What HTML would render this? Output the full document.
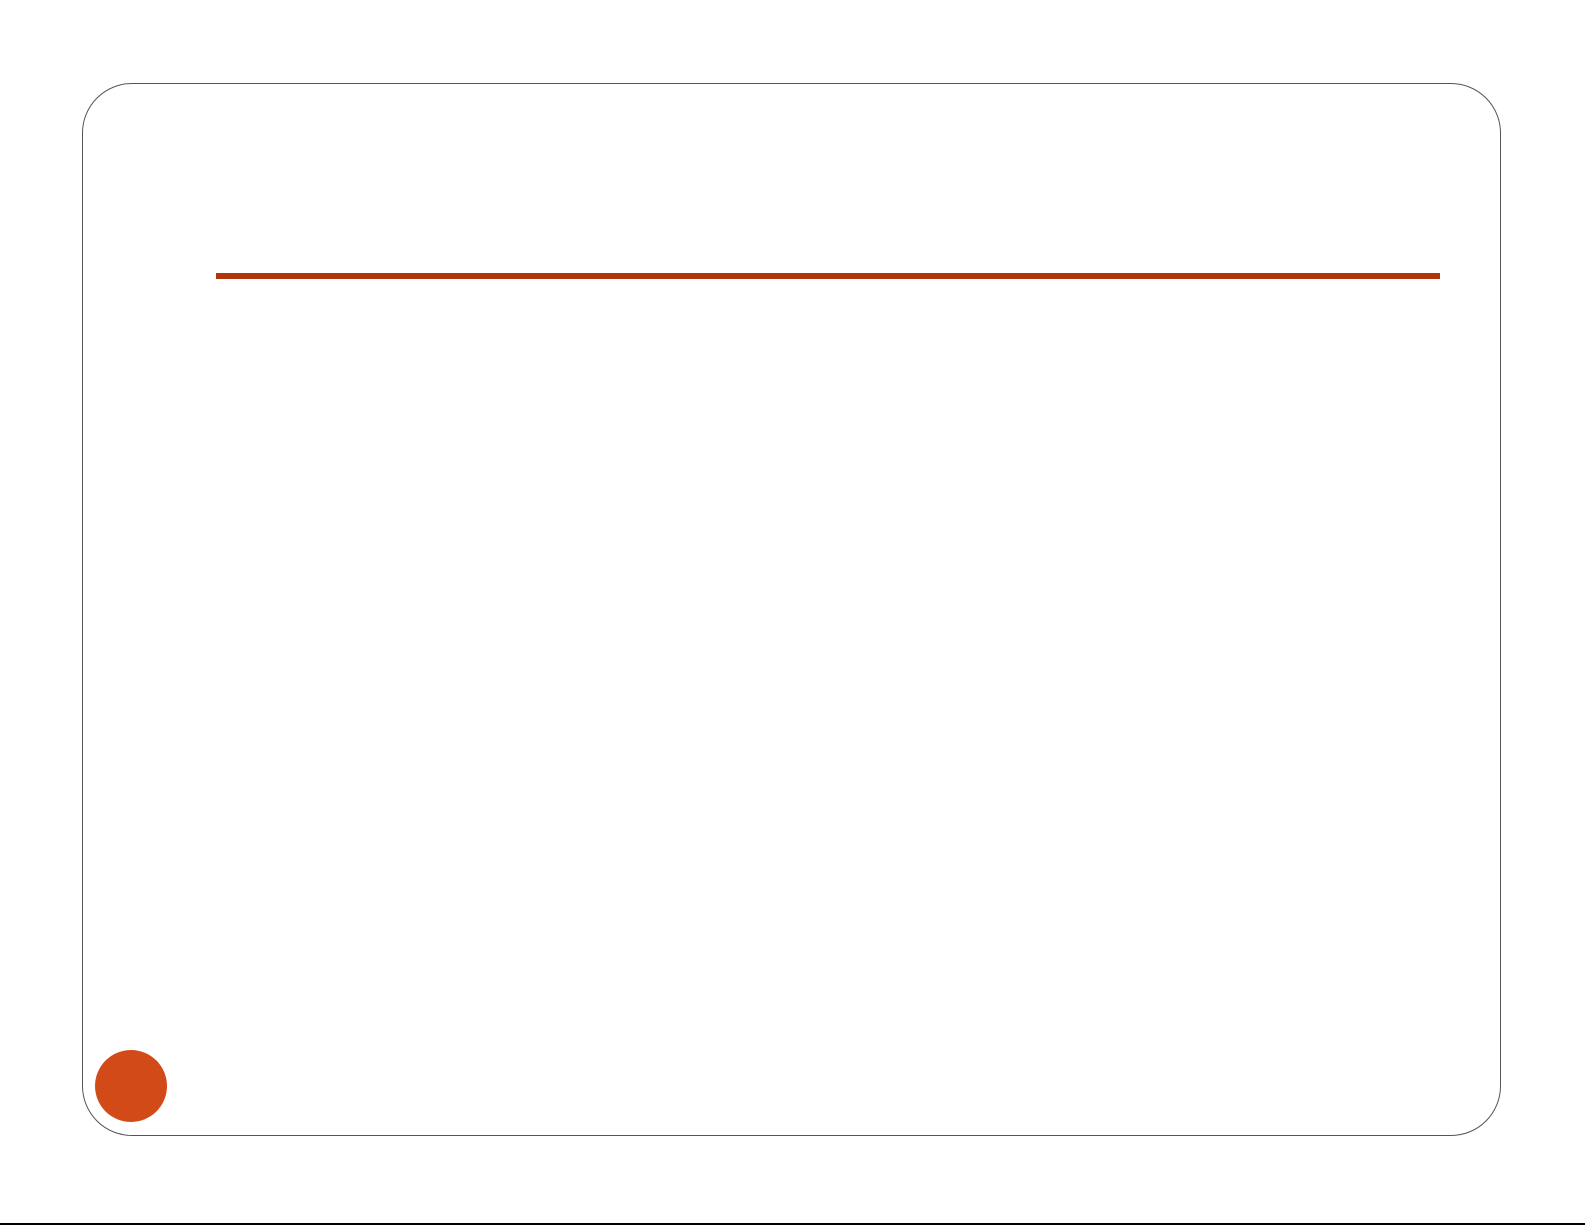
<!DOCTYPE html>
<html><head><meta charset="utf-8"><style>
html,body{margin:0;padding:0;background:#fff;}
body{width:1585px;height:1225px;position:relative;overflow:hidden;}
.frame{position:absolute;left:82px;top:83px;width:1419px;height:1053px;border:1.5px solid #555;border-radius:50px;box-sizing:border-box;}
.rule{position:absolute;left:216px;top:273px;width:1224px;height:6px;background:#b03508;}
.dot{position:absolute;left:95px;top:1050px;width:72px;height:72px;border-radius:50%;background:#d24a18;}
.bottom{position:absolute;left:0;top:1223px;width:1585px;height:2px;background:#000;}
</style></head><body>
<div class="frame"></div>
<div class="rule"></div>
<div class="dot"></div>
<div class="bottom"></div>
</body></html>
